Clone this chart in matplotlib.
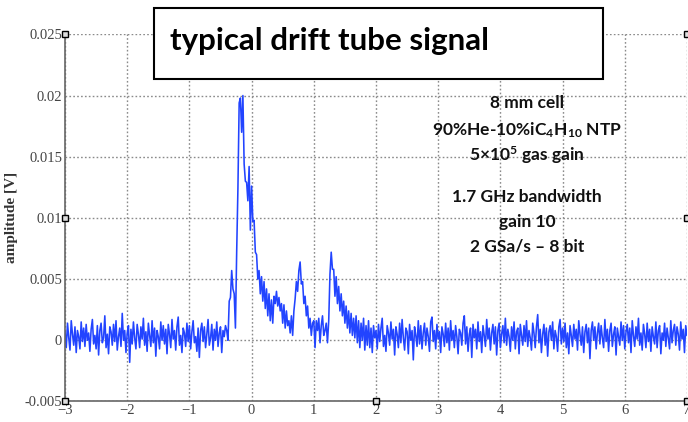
import matplotlib
matplotlib.use('Agg')
import matplotlib.pyplot as plt
import numpy as np
from matplotlib.patches import Rectangle

# sampled waveform, values in units of 0.1 mV, one sample every 0.02 on the time axis
t_start = -3.0
t_step = 0.02

pre_pulse = [
    5, -8, 12, 0, -10, 14, 3, -6, 9, -12, 6, 1, -9, 13, -3, 8, -7, 11, -2, 4,
    -11, 7, 15, -5, 2, -9, 10, -14, 6, 12, -4, 0, 18, -8, 3, -13, 9, 5, -6, 11,
    -3, 14, -10, 1, 8, -7, 20, -2, 6, -12, 4, 10, -20, 7, -5, 13, 0, -9, 11, 3,
    -8, 9, -1, 16, -6, 5, -11, 12, 2, -7, 14, -4, 8, -15, 6, 1, -9, 13, -2, 10,
    -5, 7, -13, 11, 3, -8, 15, -1, 6, -10, 9, 17, -6, 2, -12, 8, 4, -7, 12, -3,
    10, -9, 5, 14, -4, 1, -11, 8, -16, 6, 12, -3, 9, -8, 3, 15, -6, 0, 11, -10,
    7, -2, 13, -7, 4, 9, -12, 6, 1, 10,
]

pulse = [
    6, -2, 30, 33, 55, 40, 36, 8, 70, 122,
    192, 196, 168, 198, 142, 128, 127, 112, 140, 88,
    124, 95, 96, 70, 68, 48, 55, 36, 50, 30,
    46, 24, 40, 18, 36, 14, 31, 12, 34, 28,
    38, 26, 33, 22, 28, 12, 27, 8, 22, 10,
    14, 4, 18, 2, 22, 32, 46, 38, 55, 62,
    44, 46, 28, 34, 18, 26, 8, 16, 2, 12,
    14, -8, 14, 6, 16, -4, 10, 18, 2, 6,
    12, -4, 14, 52, 70, 56, 56, 34, 50, 28,
    42, 22, 36, 18, 30, 12, 26, 8, 22, 4,
    20, 2, 16, 0, 18, -4, 14, -8, 12, -2,
    16, -10, 10, -6, 14, -8, 8, -12, 10, 0,
]

post_pulse = [
    6, -9, 11, -3, 8, 16, -7, 2, -11, 10, 4, -6, 13, -1, 7, -14, 9, 3, -8, 12,
    -4, 15, 0, -10, 8, 5, -13, 11, -2, 6, -18, 9, 2, -7, 14, -5, 10, -9, 4, 12,
    -6, 8, 1, -11, 13, 17, -3, 6, -9, 11, -1, 5, -12, 9, 3, -7, 12, -4, 8, -10,
    14, -2, 6, -8, 10, 1, -13, 7, 4, -6, 12, 18, -5, 9, -11, 3, 8, -16, 11, 0,
    7, -9, 13, -3, 5, -12, 10, 2, -7, 15, -1, 8, -10, 4, 11, -5, 9, -14, 6, 12,
    -8, 3, 10, -4, 16, -6, 7, 1, -11, 9, -2, 13, -9, 5, 8, -13, 11, 2, -6, 10,
    -3, 14, -7, 6, 0, -10, 12, 4, -8, 9, 19, -4, 7, -12, 3, 11, -6, 8, -15, 5,
    10, -2, 13, -9, 6, 1, -11, 9, 15, -5, 8, -3, 12, -8, 4, -13, 10, 2, -7, 11,
    -1, 7, -10, 14, 3, -6, 9, -12, 5, 11, -4, 8, -17, 6, 13, -2, 9, -9, 4, 12,
    -5, 10, 0, -8, 15, -3, 7, -11, 6, 12, -7, 3, 9, -14, 8, 1, -6, 13, -2, 10,
    -9, 5, 11, -4, 8, -12, 14, 2, -7, 9, -1, 16, -6, 4, -10, 11, 3, -8, 12, -3,
    7, -11, 9, 1, -5, 13, -8, 6, 10, -13, 4, -2, 12, -7, 8, 0, -9, 14, -4, 6,
    11, -6, 9, 3, -10, 13, -1, 7, -12, 10, 2,
]

baseline_offset = 2  # slight positive offset of the trace, 0.1 mV units

x_ticks = [-3, -2, -1, 0, 1, 2, 3, 4, 5, 6, 7]
y_ticks = [-0.005, 0, 0.005, 0.01, 0.015, 0.02, 0.025]
y_ticklabels = ['-0.005', '0', '0.005', '0.01', '0.015', '0.02', '0.025']

title = 'typical drift tube signal'
info_lines = [
    '8 mm cell',
    r'90%He-10%iC$_4$H$_{10}$ NTP',
    r'5×10$^5$ gas gain',
    '1.7 GHz bandwidth',
    'gain 10',
    '2 GSa/s – 8 bit',
]

plt.rcParams['mathtext.fontset'] = 'custom'
plt.rcParams['mathtext.rm'] = 'Lato:bold'
plt.rcParams['mathtext.it'] = 'Lato:bold'
plt.rcParams['mathtext.bf'] = 'Lato:bold'

amp = np.array(pre_pulse + pulse + post_pulse, dtype=float)
amp = (amp + baseline_offset) * 1e-4
t = t_start + t_step * np.arange(len(amp))

fig = plt.figure(figsize=(6.88, 4.22), dpi=100)
ax = fig.add_axes([0.0945, 0.0486, 0.904, 0.870])

ax.plot(t, amp, color='#2244ff', linewidth=1.15)

ax.set_xlim(-3, 7)
ax.set_ylim(-0.005, 0.025)
ax.set_xticks(x_ticks)
ax.set_yticks(y_ticks)
ax.set_yticklabels(y_ticklabels)
ax.grid(True, linestyle=(0, (1.2, 1.6)), color='#8a8a8a', linewidth=1.0)
ax.tick_params(direction='in', length=0, labelsize=10.5,
               labelcolor='#444444', pad=2)
for lab in ax.get_xticklabels() + ax.get_yticklabels():
    lab.set_family('Liberation Serif')
ax.spines['top'].set_visible(False)
ax.spines['right'].set_visible(False)
for s in ('left', 'bottom'):
    ax.spines[s].set_color('#666666')
    ax.spines[s].set_linewidth(1.2)

ax.set_ylabel('amplitude [V]', family='Liberation Serif', fontsize=11,
              fontweight='bold', color='#333333')
ax.yaxis.set_label_coords(-0.075, 0.5)

# selection handles on the screenshot
hx = [-3, -3, -3, 2, 7, 7, 7]
hy = [0.025, 0.01, -0.005, -0.005, -0.005, 0.01, 0.025]
ax.plot(hx, hy, linestyle='none', marker='s', markersize=4,
        markerfacecolor='#dddddd', markeredgecolor='black',
        markeredgewidth=1.0, clip_on=False, zorder=5)

# title box
fig.patches.append(Rectangle((0.224, 0.813), 0.652, 0.168,
                             transform=fig.transFigure, facecolor='white',
                             edgecolor='black', linewidth=1.5, zorder=10))
fig.text(0.247, 0.902, title, family='Lato', fontweight='bold', fontsize=22.5,
         ha='left', va='center', color='black', zorder=11)

# annotation lines, pixel rows
line_rows = [103, 130, 155, 197, 222, 247]
for txt, row in zip(info_lines, line_rows):
    fig.text(0.766, 1 - row / 422, txt, family='Lato', fontweight='bold',
             fontsize=12.5, ha='center', va='center', color='#111111')

fig.savefig('out.png', dpi=100)
